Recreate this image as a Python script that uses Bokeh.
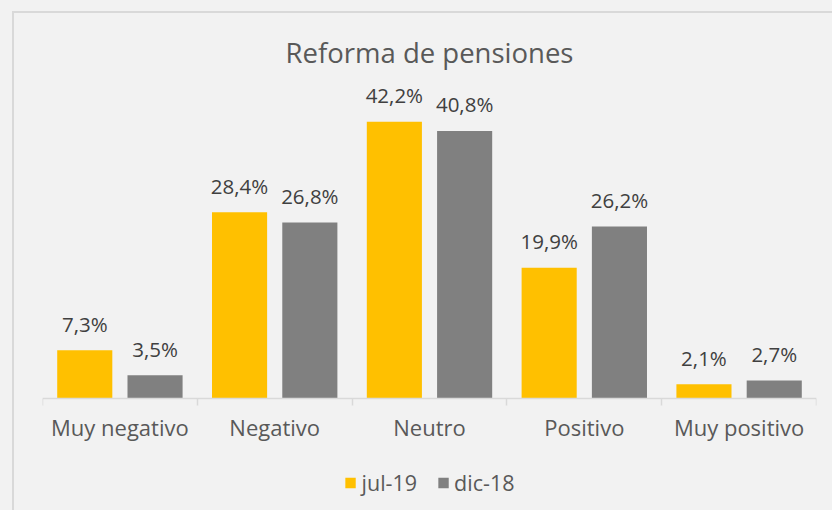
from bokeh.plotting import figure
from bokeh.layouts import column
from bokeh.models import (ColumnDataSource, Range1d, FixedTicker, Legend, LegendItem,
                          Label)
from bokeh.transform import dodge
from bokeh.core.properties import value
from bokeh.embed import file_html
from bokeh.resources import INLINE

# ---- data ----
categories = ["Muy negativo", "Negativo", "Neutro", "Positivo", "Muy positivo"]
jul19 = [7.3, 28.4, 42.2, 19.9, 2.1]
dic18 = [3.5, 26.8, 40.8, 26.2, 2.7]
series_names = ["jul-19", "dic-18"]
title_text = "Reforma de pensiones"

FONT = "Open Sans"
YELLOW = "#FFC000"
GRAY = "#808080"
BG = "#F2F2F2"
LINE = "#D9D9D9"

def fmt(v):
    return f"{v:.1f}".replace(".", ",") + "%"

xc = [i + 0.5 for i in range(len(categories))]
source = ColumnDataSource(dict(
    xc=xc,
    jul=jul19,
    dic=dic18,
    jul_lbl=[fmt(v) for v in jul19],
    dic_lbl=[fmt(v) for v in dic18],
))

p = figure(frame_width=772, frame_height=497,
           output_backend="svg", toolbar_location=None,
           x_range=Range1d(0, len(categories)), y_range=Range1d(-17.48, 58.74),
           min_border_left=28, min_border_right=18, min_border_top=0,
           min_border_bottom=0)
p.background_fill_color = BG
p.border_fill_color = BG
p.outline_line_color = None
p.xgrid.visible = False
p.ygrid.visible = False
p.yaxis.visible = False

off = 0.227
bw = 0.356
r1 = p.vbar(x=dodge("xc", -off, range=p.x_range), top="jul", width=bw, bottom=0,
            source=source, fill_color=YELLOW, line_color=None)
r2 = p.vbar(x=dodge("xc", off, range=p.x_range), top="dic", width=bw, bottom=0,
            source=source, fill_color=GRAY, line_color=None)

for col, lbl, sgn in (("jul", "jul_lbl", -1), ("dic", "dic_lbl", 1)):
    p.text(x=dodge("xc", sgn * off, range=p.x_range), y=col, text=lbl, source=source,
           text_align="center", text_baseline="alphabetic", y_offset=-26.5,
           text_font=value(FONT), text_font_size="20.5px", text_color="#404040")

# title inside frame
p.add_layout(Label(x=len(categories) / 2, y=52.8, text=title_text,
                   text_align="center", text_baseline="alphabetic",
                   text_font=FONT, text_font_size="27.5px", text_color="#595959"))

ax = p.xaxis[0]
ax.fixed_location = 0
ax.ticker = FixedTicker(ticks=xc, minor_ticks=list(range(len(categories) + 1)))
ax.major_label_overrides = {x: c for x, c in zip(xc, categories)}
ax.major_tick_line_color = None
ax.major_tick_out = 0
ax.major_tick_in = 0
ax.minor_tick_line_color = LINE
ax.minor_tick_line_width = 1.5
ax.minor_tick_out = 7
ax.minor_tick_in = 0
ax.axis_line_color = LINE
ax.axis_line_width = 1.5
ax.major_label_text_font = FONT
ax.major_label_text_font_size = "22px"
ax.major_label_text_color = "#595959"
ax.major_label_standoff = 7

legend = Legend(items=[LegendItem(label=series_names[0], renderers=[r1]),
                       LegendItem(label=series_names[1], renderers=[r2])],
                orientation="horizontal", location="bottom_center",
                background_fill_alpha=0, border_line_color=None,
                label_text_font=FONT, label_text_font_size="21.5px",
                label_text_color="#595959", glyph_width=13, glyph_height=13,
                label_standoff=5, spacing=19, padding=0, margin=15)
p.add_layout(legend, "center")

p.margin = (11, 0, 0, 12)
p.styles = {"border-left": "2px solid " + LINE, "border-top": "2px solid " + LINE}

root = column(p, styles={"background-color": BG})

html = file_html(root, INLINE)
open("out.html", "w").write(html)
